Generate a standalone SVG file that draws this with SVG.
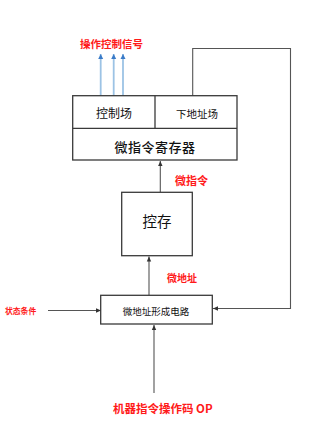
<svg xmlns="http://www.w3.org/2000/svg" width="331" height="442" viewBox="0 0 331 442">
<style>
.box{fill:#fff;stroke:#3a3a3a;stroke-width:1.3}
.ln{fill:none;stroke:#555;stroke-width:1.1}
.bl{fill:none;stroke:#9cc3e5;stroke-width:1.8}
.t{font-family:"Noto Sans CJK SC","Liberation Sans",sans-serif;fill:#111;text-anchor:middle;dominant-baseline:central}
.r{font-family:"Noto Sans CJK SC","Liberation Sans",sans-serif;fill:#ff1a1a;font-weight:bold;dominant-baseline:central}
</style>
<defs>
<marker id="ah" markerWidth="6" markerHeight="6" refX="5" refY="3" orient="auto" markerUnits="userSpaceOnUse"><path d="M0,0.8 L5,3 L0,5.2 Z" fill="#333"/></marker>
<marker id="ab" markerWidth="6" markerHeight="6" refX="5" refY="3" orient="auto" markerUnits="userSpaceOnUse"><path d="M0,0.5 L5,3 L0,5.5 Z" fill="#3a7bc8"/></marker>
</defs>
<g id="connectors">
<line class="bl" x1="100.7" y1="96" x2="100.7" y2="54" marker-end="url(#ab)"/>
<line class="bl" x1="113.7" y1="96" x2="113.7" y2="54" marker-end="url(#ab)"/>
<line class="bl" x1="123" y1="96" x2="123" y2="54" marker-end="url(#ab)"/>
<polyline class="ln" points="192.7,96 192.7,48.5 290.5,48.5 290.5,308.5 213,308.5" marker-end="url(#ah)"/>
<line class="ln" x1="160.3" y1="192.3" x2="160.3" y2="161" marker-end="url(#ah)"/>
<line class="ln" x1="149" y1="295.3" x2="149" y2="256.5" marker-end="url(#ah)"/>
<line class="ln" x1="48" y1="310.5" x2="101" y2="310.5" marker-end="url(#ah)"/>
<line class="ln" x1="154" y1="393" x2="154" y2="325" marker-end="url(#ah)"/>
</g>
<g id="reg">
<rect class="box" x="72.7" y="95.7" width="164.3" height="64.3"/>
<line class="box" x1="72.7" y1="128.3" x2="237" y2="128.3"/>
<line class="box" x1="155" y1="95.7" x2="155" y2="128.3"/>
<text class="t" x="114" y="112" font-size="12">控制场</text>
<text class="t" x="197" y="113.5" font-size="10.5">下地址场</text>
<text class="t" x="155" y="146.7" font-size="13" font-weight="500" letter-spacing="0.5">微指令寄存器</text>
</g>
<g id="cs">
<rect class="box" x="121.7" y="192.3" width="70.6" height="63.4"/>
<text class="t" x="157" y="220" font-size="14.5">控存</text>
</g>
<g id="gen">
<rect class="box" x="100.7" y="295.3" width="111.6" height="28.7"/>
<text class="t" x="156" y="311" font-size="9.5">微地址形成电路</text>
</g>
<g id="labels">
<text class="r" x="80" y="43" font-size="10.5">操作控制信号</text>
<text class="r" x="175" y="179.5" font-size="11">微指令</text>
<text class="r" x="167" y="277" font-size="10">微地址</text>
<text class="r" x="5" y="310.5" font-size="7.8">状态条件</text>
<text class="r" x="113" y="407.7" font-size="11.5">机器指令操作码 OP</text>
</g>
</svg>
